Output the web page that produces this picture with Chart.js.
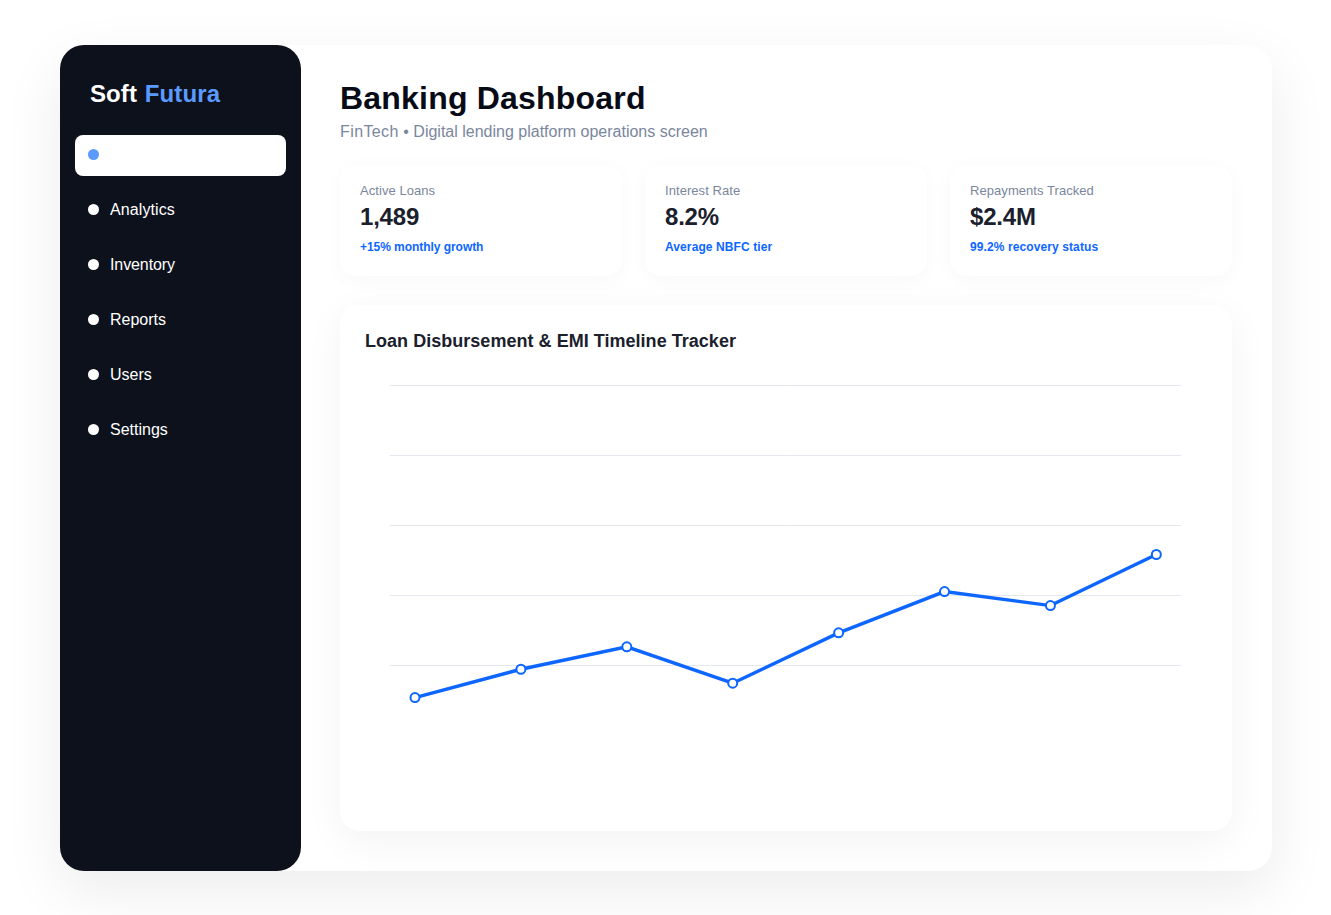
<!DOCTYPE html>
<html>
<head>
<meta charset="utf-8">
<title>Banking Dashboard</title>
<script src="https://cdn.jsdelivr.net/npm/chart.js@4"></script>
<style>
  * { box-sizing: border-box; }
  html, body { margin: 0; height: 100%; background: #fff; overflow: hidden; font-family: "Liberation Sans", Arial, sans-serif; }
  .shell { position: absolute; left: 60px; top: 45px; width: 1212px; height: 826px; background: #fff; border-radius: 24px; box-shadow: 0 20px 60px rgba(0,0,0,.08); }
  .sidebar { position: absolute; left: 0; top: 0; width: 241px; height: 826px; background: #0d111c; border-radius: 24px; }
  .logo { position: absolute; left: 30px; top: 35px; font-size: 24px; line-height: 28px; font-weight: 700; color: #fff; letter-spacing: .1px; word-spacing: 1px; }
  .logo span { color: #5b9bff; }
  .nav { position: absolute; left: 15px; width: 211px; height: 41px; border-radius: 8px; color: #fff; font-size: 16px; line-height: 39px; padding-left: 35px; }
  .nav::before { content: ""; position: absolute; left: 13px; top: 14px; width: 11px; height: 11px; border-radius: 50%; background: #fff; }
  .nav.active { background: #fff; line-height: 41px; }
  .nav.active::before { background: #5b9bff; }
  h1 { position: absolute; left: 280px; top: 33px; margin: 0; font-size: 32px; line-height: 40px; font-weight: 700; color: #070b16; letter-spacing: .2px; }
  .sub { position: absolute; left: 280px; top: 78px; font-size: 16px; line-height: 18px; color: #7a869c; }
  .sub span { letter-spacing: .4px; }
  .card { position: absolute; top: 120px; width: 282px; height: 111px; background: #fff; border-radius: 16px; box-shadow: 0 4px 20px rgba(0,0,0,.03); padding-left: 20px; }
  .card .lbl { position: absolute; top: 18px; font-size: 13px; line-height: 15px; color: #7a869c; letter-spacing: .06px; }
  .card .val { position: absolute; top: 38px; font-size: 24px; line-height: 28px; font-weight: 700; color: #1a202c; letter-spacing: -.2px; }
  .card .note { position: absolute; top: 75px; font-size: 12px; line-height: 14px; font-weight: 700; color: #0d66ff; letter-spacing: .1px; }
  .panel { position: absolute; left: 280px; top: 260px; width: 892px; height: 526px; background: #fff; border-radius: 20px; box-shadow: 0 10px 40px rgba(0,0,0,.05); }
  .panel h3 { position: absolute; left: 25px; top: 26px; margin: 0; font-size: 18px; line-height: 21px; font-weight: 700; color: #1a202c; letter-spacing: .03px; }
  .plot { position: absolute; left: 25px; top: 60px; width: 842px; height: 440px; }
</style>
</head>
<body>
<div class="shell">
  <div class="sidebar">
    <div class="logo">Soft <span>Futura</span></div>
    <div class="nav active" style="top:90px">Dashboard</div>
    <div class="nav" style="top:145px;letter-spacing:.1px">Analytics</div>
    <div class="nav" style="top:200px;letter-spacing:-.1px">Inventory</div>
    <div class="nav" style="top:255px">Reports</div>
    <div class="nav" style="top:310px">Users</div>
    <div class="nav" style="top:365px">Settings</div>
  </div>
  <h1>Banking Dashboard</h1>
  <div class="sub"><span>FinTech</span> • Digital lending platform operations screen</div>
  <div class="card" style="left:280px"><div class="lbl">Active Loans</div><div class="val">1,489</div><div class="note" style="letter-spacing:-.05px">+15% monthly growth</div></div>
  <div class="card" style="left:585px"><div class="lbl">Interest Rate</div><div class="val">8.2%</div><div class="note">Average NBFC tier</div></div>
  <div class="card" style="left:890px"><div class="lbl">Repayments Tracked</div><div class="val">$2.4M</div><div class="note">99.2% recovery status</div></div>
  <div class="panel">
    <h3>Loan Disbursement &amp; EMI Timeline Tracker</h3>
    <div class="plot"><canvas id="timelineChart"></canvas></div>
  </div>
</div>
<script>
// Timeline points
const periods = [0, 1, 2, 3, 4, 5, 6, 7];
const emiValues = [10.7, 18.8, 25.2, 14.8, 29.2, 41, 37, 51.6];
const yTicks = [20, 40, 60, 80, 100];

const timelineCtx = document.getElementById("timelineChart");

new Chart(timelineCtx, {
  type: "line",
  data: {
    datasets: [{
      data: periods.map((p, i) => ({ x: p, y: emiValues[i] })),
      borderColor: "#0d66ff",
      borderWidth: 3.4,
      tension: 0,
      pointRadius: 4.5,
      pointBorderWidth: 2,
      pointBackgroundColor: "#fff",
      pointBorderColor: "#0d66ff"
    }]
  },
  options: {
    responsive: true,
    maintainAspectRatio: false,
    animation: false,
    layout: { padding: { left: 25, right: 26, top: 20.2, bottom: 70 } },
    plugins: { legend: { display: false }, tooltip: { enabled: false } },
    scales: {
      x: {
        type: "linear",
        min: -0.236,
        max: 7.233,
        display: false
      },
      y: {
        min: 0,
        max: 100,
        afterBuildTicks: (axis) => { axis.ticks = yTicks.map((v) => ({ value: v })); },
        ticks: { display: false },
        border: { display: false },
        grid: { color: "#e5e7ee", lineWidth: 1, drawTicks: false }
      }
    }
  }
});
</script>
</body>
</html>
